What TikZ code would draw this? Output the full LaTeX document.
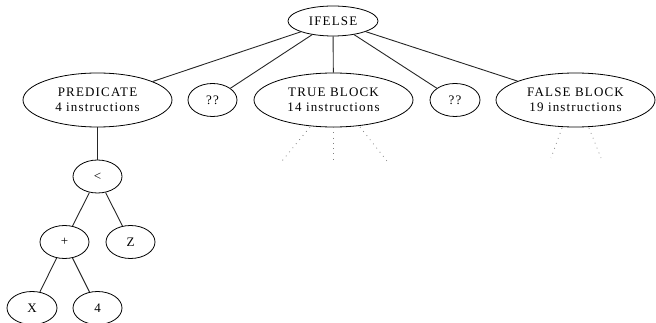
\documentclass[tikz,border=0pt]{standalone}
\usepackage{fontspec}
\setmainfont{Liberation Serif}[LetterSpace=9]
\usetikzlibrary{shapes.geometric}
\begin{document}
\begin{tikzpicture}[x=1pt,y=-1pt,
  nd/.style={ellipse,draw,line width=0.8pt,inner sep=0pt,font=\fontsize{13}{14.5}\selectfont,align=center},
  edge/.style={line width=0.9pt,black!85},
  dots/.style={line width=0.8pt,dash pattern=on 0.8pt off 4.5pt,gray}]
\useasboundingbox (0,0) rectangle (656,323);
\node[nd,minimum width=90,minimum height=30] (ife) at (333,21) {IFELSE};
\node[nd,minimum width=149,minimum height=54] (pred) at (97.5,100) {PREDICATE\\4 instructions};
\node[nd,minimum width=49,minimum height=33] (q1) at (212.5,100) {??};
\node[nd,minimum width=159,minimum height=54] (tb) at (333.5,100) {TRUE BLOCK\\14 instructions};
\node[nd,minimum width=50,minimum height=33] (q2) at (455,100) {??};
\node[nd,minimum width=159,minimum height=54] (fb) at (575.5,100) {FALSE BLOCK\\19 instructions};
\node[nd,minimum width=49,minimum height=33] (lt) at (97.5,176.5) {<};
\node[nd,minimum width=49,minimum height=33] (plus) at (64.5,242) {+};
\node[nd,minimum width=49,minimum height=33] (z) at (130.5,242) {Z};
\node[nd,minimum width=50,minimum height=33] (x) at (32,308) {X};
\node[nd,minimum width=49,minimum height=33] (four) at (97.5,308) {4};
\draw[edge] (ife) -- (pred);
\draw[edge] (ife) -- (q1);
\draw[edge] (ife) -- (tb);
\draw[edge] (ife) -- (q2);
\draw[edge] (ife) -- (fb);
\draw[edge] (pred) -- (lt);
\draw[edge] (lt) -- (plus);
\draw[edge] (lt) -- (z);
\draw[edge] (plus) -- (x);
\draw[edge] (plus) -- (four);
\coordinate (t1s) at (310,127);
\coordinate (t1e) at (282,161);
\coordinate (t2s) at (333.5,127);
\coordinate (t2e) at (333.5,161);
\coordinate (t3s) at (360,127);
\coordinate (t3e) at (387,161);
\coordinate (f1s) at (562,128);
\coordinate (f1e) at (551,158);
\coordinate (f2s) at (589,128);
\coordinate (f2e) at (601,158);
\draw[dots] (t1s) -- (t1e);
\draw[dots] (t2s) -- (t2e);
\draw[dots] (t3s) -- (t3e);
\draw[dots] (f1s) -- (f1e);
\draw[dots] (f2s) -- (f2e);
\end{tikzpicture}
\end{document}
